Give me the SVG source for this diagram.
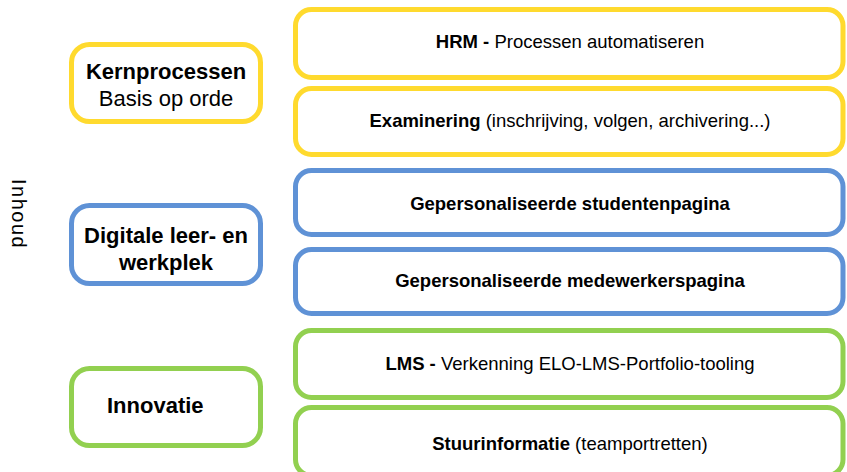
<svg xmlns="http://www.w3.org/2000/svg" width="847" height="472" viewBox="0 0 847 472">
  <style>
    .box { fill: #ffffff; stroke-width: 5; }
    .y { stroke: #FFDA2E; }
    .b { stroke: #5F92D6; }
    .g { stroke: #92D050; }
    text { font-family: "Liberation Sans", Arial, sans-serif; fill: #000000; }
    .cat { font-size: 22px; text-anchor: middle; }
    .cat-left { font-size: 22px; text-anchor: start; }
    .item { font-size: 18.5px; text-anchor: middle; }
    .bold { font-weight: bold; }
  </style>

  <!-- vertical axis label -->
  <text id="axis-label" transform="translate(12,179) rotate(90)" font-size="20" letter-spacing="1.5">Inhoud</text>

  <!-- category boxes (left column) -->
  <g id="kernprocessen">
    <rect class="box y" x="71.5" y="44.5" width="189" height="77" rx="18"/>
    <text class="cat bold" x="166" y="79">Kernprocessen</text>
    <text class="cat" x="166" y="106">Basis op orde</text>
  </g>
  <g id="digitale-werkplek">
    <rect class="box b" x="71.5" y="205.5" width="189" height="78" rx="18"/>
    <text class="cat bold" x="166" y="243">Digitale leer- en</text>
    <text class="cat bold" x="166" y="270">werkplek</text>
  </g>
  <g id="innovatie">
    <rect class="box g" x="71.5" y="368.5" width="189" height="77" rx="18"/>
    <text class="cat-left bold" x="107" y="413">Innovatie</text>
  </g>

  <!-- item boxes (right column) -->
  <g id="hrm">
    <rect class="box y" x="295.5" y="9.5" width="547.5" height="68" rx="16"/>
    <text class="item" x="570" y="48"><tspan class="bold">HRM - </tspan>Processen automatiseren</text>
  </g>
  <g id="examinering">
    <rect class="box y" x="295.5" y="88.5" width="547.5" height="66" rx="16"/>
    <text class="item" x="570" y="127"><tspan class="bold">Examinering</tspan> (inschrijving, volgen, archivering...)</text>
  </g>
  <g id="studentenpagina">
    <rect class="box b" x="295.5" y="170.5" width="547.5" height="64" rx="16"/>
    <text class="item bold" x="570" y="210">Gepersonaliseerde studentenpagina</text>
  </g>
  <g id="medewerkerspagina">
    <rect class="box b" x="295.5" y="249.5" width="547.5" height="64" rx="16"/>
    <text class="item bold" x="570" y="287">Gepersonaliseerde medewerkerspagina</text>
  </g>
  <g id="lms">
    <rect class="box g" x="295.5" y="330.5" width="547.5" height="67" rx="16"/>
    <text class="item" x="570" y="370"><tspan class="bold">LMS - </tspan>Verkenning ELO-LMS-Portfolio-tooling</text>
  </g>
  <g id="stuurinformatie">
    <rect class="box g" x="295.5" y="407.5" width="547.5" height="68" rx="16"/>
    <text class="item" x="570" y="450"><tspan class="bold">Stuurinformatie</tspan> (teamportretten)</text>
  </g>

  <!-- no connectors are drawn between the boxes -->
  <g id="connectors"/>
</svg>
